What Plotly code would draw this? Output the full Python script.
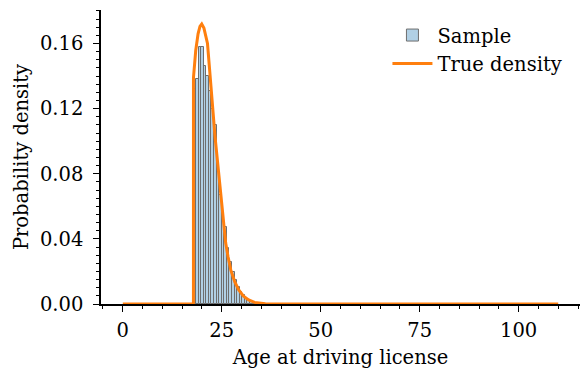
import plotly.graph_objects as go

# Histogram (sample) — bin left edges start, bin width and densities
bin_start = 17.85
bin_width = 0.65
sample_density = [0.132, 0.138, 0.158, 0.158, 0.1465, 0.140, 0.131, 0.120, 0.1097,
                  0.0872, 0.0668, 0.0546, 0.0474, 0.0341, 0.0259, 0.0198, 0.0147,
                  0.0106, 0.0075, 0.0055, 0.0035, 0.0025, 0.0015, 0.0010, 0.0006,
                  0.0004, 0.0002]
bin_centers = [bin_start + bin_width * (i + 0.5) for i in range(len(sample_density))]

# True density curve
dens_x = [0, 17.85, 17.86, 18.1, 18.43, 19.02, 19.5, 19.95, 20.5, 21.4, 22.0, 22.65,
          23.3, 23.9, 24.5, 25.2, 26.0, 26.6, 27.3, 28.3, 29.3, 30.5, 31.8, 33.3,
          34.8, 36.0, 110]
dens_y = [0, 0, 0.139, 0.149, 0.1557, 0.166, 0.1705, 0.172, 0.1695, 0.160, 0.141, 0.119,
          0.103, 0.0883, 0.073, 0.0576, 0.0374, 0.029, 0.0208, 0.0135, 0.0086, 0.0048,
          0.0025, 0.0010, 0.0003, 0.0001, 0]

FONT = "DejaVu Serif"
FS = 19.5

fig = go.Figure()
fig.add_trace(go.Bar(
    x=bin_centers, y=sample_density, width=bin_width,
    marker=dict(color="rgba(31,119,180,0.35)", line=dict(color="rgb(110,110,110)", width=1)),
    name="Sample",
))
fig.add_trace(go.Scatter(
    x=dens_x, y=dens_y, mode="lines",
    line=dict(color="#ff7f0e", width=3),
    name="True density",
))

fig.update_layout(
    width=581, height=369,
    margin=dict(l=101, r=1, t=10, b=65, autoexpand=False),
    paper_bgcolor="white", plot_bgcolor="white",
    font=dict(family=FONT, size=FS, color="black"),
    bargap=0,
    showlegend=True,
    legend=dict(x=0.598, xanchor="left", y=0.98, yanchor="top", bgcolor="rgba(0,0,0,0)",
                font=dict(family=FONT, size=FS), itemwidth=40, tracegroupgap=0),
    xaxis=dict(
        range=[-5.5, 115.5], tick0=0, dtick=25, showgrid=False, zeroline=False,
        showline=True, linecolor="black", linewidth=1.5,
        ticks="outside", ticklen=6, tickwidth=1.2, tickcolor="black",
        minor=dict(dtick=5, tick0=0, ticks="outside", ticklen=3.5, tickwidth=1, tickcolor="black", showgrid=False),
        title=dict(text="Age at driving license", font=dict(family=FONT, size=FS), standoff=10),
        tickfont=dict(family=FONT, size=FS),
        ticklabelstandoff=2,
    ),
    yaxis=dict(
        range=[0, 0.1806], tick0=0, dtick=0.04, tickformat=".2f", showgrid=False, zeroline=False,
        showline=True, linecolor="black", linewidth=1.5,
        ticks="outside", ticklen=6, tickwidth=1.2, tickcolor="black",
        minor=dict(dtick=0.005, tick0=0, ticks="outside", ticklen=3.5, tickwidth=1, tickcolor="black", showgrid=False),
        title=dict(text="Probability density", font=dict(family=FONT, size=FS), standoff=6),
        tickfont=dict(family=FONT, size=FS),
        ticklabelstandoff=6,
    ),
)

fig.write_html("out.html", config={"displayModeBar": False},
               post_script="document.body.style.margin='0';document.body.style.padding='0';")
